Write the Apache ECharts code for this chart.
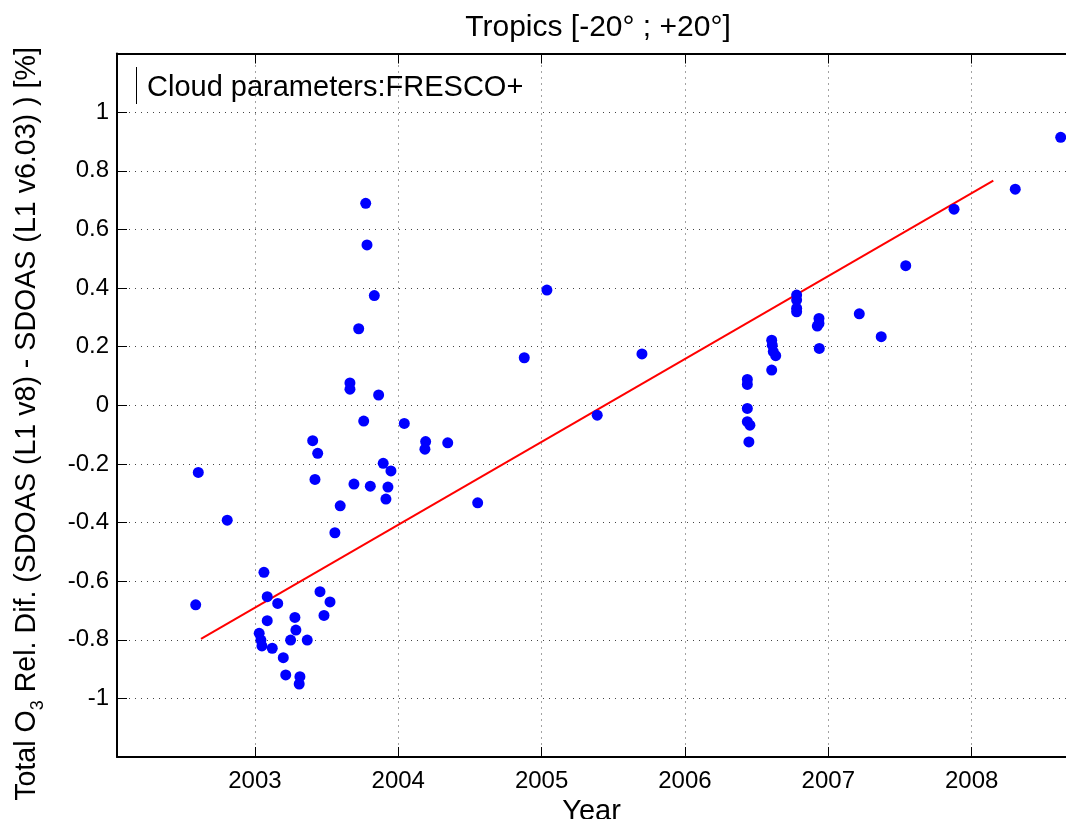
<!DOCTYPE html>
<html>
<head>
<meta charset="utf-8">
<script src="https://cdn.jsdelivr.net/npm/echarts@6/dist/echarts.min.js"></script>
<style>
html,body{margin:0;padding:0;background:#fff;}
#chart{width:1066px;height:819px;}
</style>
</head>
<body>
<div id="chart"></div>
<script>
// ---- data (decimal year, relative difference in %) ----
const years = [
  2002.605, 2002.587, 2002.807, 2003.063, 2003.086, 2003.159, 2003.454, 2003.524, 2003.482, 2003.086,
  2003.279, 2003.030, 2003.042, 2003.049, 2003.286, 2003.249, 2003.365, 2003.121, 2003.198, 2003.215,
  2003.314, 2003.309, 2003.558, 2003.595, 2003.403, 2003.438, 2003.419, 2003.663, 2003.663, 2003.691,
  2003.724, 2003.759, 2003.773, 2003.782, 2003.805, 2003.833, 2003.863, 2003.895, 2003.914, 2003.928,
  2003.949, 2004.042, 2004.191, 2004.186, 2004.345, 2004.554, 2004.879, 2005.037, 2005.388, 2005.700,
  2006.435, 2006.435, 2006.435, 2006.435, 2006.453, 2006.446, 2006.605, 2006.609, 2006.616, 2006.633,
  2006.605, 2006.779, 2006.779, 2006.779, 2006.779, 2006.935, 2006.935, 2006.923, 2006.937, 2007.216,
  2007.369, 2007.540, 2007.877, 2008.304, 2008.621
];
const values = [
  -0.229, -0.681, -0.392, -0.570, -0.653, -0.676, -0.636, -0.671, -0.717, -0.735,
  -0.724, -0.778, -0.801, -0.821, -0.767, -0.801, -0.801, -0.829, -0.861, -0.920,
  -0.926, -0.951, -0.435, -0.343, -0.121, -0.164, -0.253, 0.076, 0.055, -0.269,
  0.261, -0.054, 0.689, 0.547, -0.276, 0.374, 0.035, -0.198, -0.320, -0.279,
  -0.224, -0.062, -0.124, -0.150, -0.128, -0.333, 0.162, 0.393, -0.034, 0.175,
  0.088, 0.071, -0.011, -0.056, -0.068, -0.125, 0.222, 0.205, 0.183, 0.169,
  0.120, 0.376, 0.359, 0.331, 0.319, 0.296, 0.279, 0.270, 0.194, 0.312,
  0.234, 0.476, 0.669, 0.737, 0.914
];
// linear fit line (end points)
const fitYears = [2002.624, 2008.151];
const fitValues = [-0.797, 0.766];
// tick labels
const xTicks = [2003, 2004, 2005, 2006, 2007, 2008];
const yTicks = [-1, -0.8, -0.6, -0.4, -0.2, 0, 0.2, 0.4, 0.6, 0.8, 1];

const FONT = "'Liberation Sans', Arial, Helvetica, sans-serif";
const scatterData = years.map((y, i) => [y, values[i]]);
const fitData = fitYears.map((y, i) => [y, fitValues[i]]);

const gridLine = { show: true, lineStyle: { color: '#444', width: 1, type: [1, 5] } };

const chart = echarts.init(document.getElementById('chart'), null, { renderer: 'canvas' });
chart.setOption({
  animation: false,
  backgroundColor: '#fff',
  title: {
    text: 'Tropics [-20° ; +20°]',
    left: 593, top: 8, textAlign: 'center',
    textStyle: { fontFamily: FONT, fontSize: 30, fontWeight: 'normal', color: '#000' }
  },
  grid: { left: 117, right: 0, top: 53.5, bottom: 62, outerBoundsMode: 'none' },
  xAxis: [{
    type: 'value', min: 2002.038, max: 2008.658, position: 'bottom',
    name: 'Year', nameLocation: 'middle', nameGap: 27,
    nameTextStyle: { fontFamily: FONT, fontSize: 29, color: '#000' },
    axisLine: { show: true, onZero: false, lineStyle: { color: '#000', width: 2 } },
    axisTick: { show: true, inside: true, length: 10, customValues: xTicks, lineStyle: { color: '#000', width: 1 } },
    axisLabel: { show: true, customValues: xTicks, margin: 12, fontFamily: FONT, fontSize: 24, color: '#000', formatter: v => String(v) },
    splitLine: gridLine
  }, {
    type: 'value', min: 2002.038, max: 2008.658, position: 'top',
    axisLine: { show: true, onZero: false, lineStyle: { color: '#000', width: 2 } },
    axisTick: { show: true, inside: true, length: 10, customValues: xTicks, lineStyle: { color: '#000', width: 1 } },
    axisLabel: { show: false },
    splitLine: { show: false }
  }],
  yAxis: [{
    type: 'value', min: -1.2, max: 1.2, position: 'left',
    axisLine: { show: true, onZero: false, lineStyle: { color: '#000', width: 2 } },
    axisTick: { show: true, inside: true, length: 10, customValues: yTicks, lineStyle: { color: '#000', width: 1 } },
    axisLabel: { show: true, customValues: yTicks, margin: 8, fontFamily: FONT, fontSize: 24, color: '#000', formatter: v => String(v) },
    splitLine: gridLine
  }],
  graphic: [
    {
      type: 'text', x: 27, y: 424, rotation: Math.PI / 2, z: 10,
      style: {
        text: '{a|Total O}{s|3}{a| Rel. Dif. (SDOAS (L1 v8) - SDOAS (L1 v6.03) ) [%]}',
        align: 'center', verticalAlign: 'middle',
        rich: {
          a: { fontFamily: FONT, fontSize: 28.6, lineHeight: 40, verticalAlign: 'middle', fill: '#000' },
          s: { fontFamily: FONT, fontSize: 18, lineHeight: 18, verticalAlign: 'bottom', fill: '#000' }
        }
      }
    },
    { type: 'line', shape: { x1: 136.5, y1: 67, x2: 136.5, y2: 104 }, style: { stroke: '#000', lineWidth: 1 }, z: 10 },
    {
      type: 'text', x: 147, y: 88, z: 10,
      style: { text: 'Cloud parameters:FRESCO+', fontFamily: FONT, fontSize: 29, fill: '#000', verticalAlign: 'middle', align: 'left' }
    }
  ],
  series: [
    {
      type: 'line', data: fitData, symbol: 'none', silent: true, z: 3,
      lineStyle: { color: '#ff0000', width: 2 }
    },
    {
      type: 'scatter', data: scatterData, symbol: 'circle', symbolSize: 11, z: 4,
      itemStyle: { color: '#0000ff', opacity: 1 }
    }
  ]
});
</script>
</body>
</html>
